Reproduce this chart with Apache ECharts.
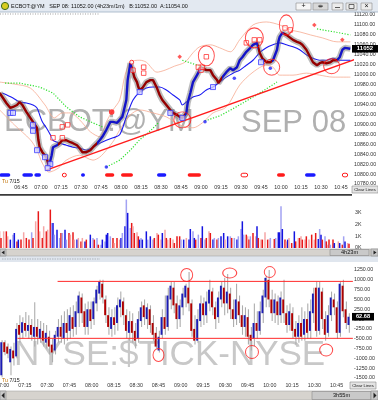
<!DOCTYPE html>
<html><head><meta charset="utf-8">
<script src="https://cdn.jsdelivr.net/npm/echarts@6/dist/echarts.min.js"></script>
<style>html,body{margin:0;padding:0;background:#fff;}#c{width:378px;height:400px;}</style>
</head><body><div id="c"></div>
<script>
// ---------- DATA (minutes since midnight, prices) ----------
const priceTime = [389,391,394,397,399,402,404,406,409,412, 414,417,418,419,421,424,426,428,429,432,
  434,436,439,442,444,447,449,451,454,457, 459,462,464,466,469,472,474,477,479,481,
  484,485,487,488,489,490,492,493,494,496, 499,502,504,507,509,511,514,517,519,522,
  524,526,529,530,532,534,537,539,541,544, 547,549,552,553,554,556,559,562,564,567,
  569,571,574,577,579,582,583,584,586,589, 592,594,597,598,599,601,604,607,609,612,
  614,616,619,622,624,627,629,631,634,637, 639,642,644,646,648,649,652];
const priceValue = [10963,10955,10943,10933,10935,10939,10945,10939,10925,10913, 10905,10893,10869,10854,10844,10834,10816,10838,10854,10858,
  10862,10868,10868,10864,10862,10858,10852,10844,10844,10848, 10854,10862,10868,10875,10889,10905,10905,10903,10909,10915,
  10949,10989,11023,11025,11005,10995,10985,10975,10969,10973, 10985,10989,10989,10973,10959,10949,10939,10929,10923,10919,
  10915,10913,10923,10943,10963,10985,10999,11009,11013,11009, 11009,10999,10989,10983,10985,10995,11005,11013,11009,11015,
  11029,11035,11046,11054,11060,11064,11054,11044,11033,11025, 11025,11029,11050,11066,11076,11084,11080,11074,11070,11066,
  11064,11060,11050,11035,11025,11019,11023,11025,11023,11025, 11029,11029,11035,11050,11054,11050,11052];
const upMoves = [[426,433],[462,488],[528,541],[556,583],[593,602],[642,660]];

const maTime = [391,399,404,409,414,417,419,421,424,427, 429,432,434,439,444,449,454,459,464,469,
  474,479,484,489,494,499,504,509,514,519, 524,526,529,534,539,544,549,554,559,564,
  569,574,579,584,589,594,599,604,609,614, 619,624,629,634,639,644,652];
const maValue = [10963,10953,10945,10943,10939,10933,10919,10905,10893,10879, 10868,10864,10862,10858,10854,10852,10848,10854,10862,10868,
  10873,10879,10915,10949,10965,10973,10975,10975,10969,10959, 10949,10939,10945,10955,10959,10969,10975,10985,10995,11003,
  11009,11019,11029,11044,11054,11060,11064,11060,11056,11050, 11040,11033,11029,11029,11033,11029,11029];

const upperTime = [389,400,412,423,430,436,442,449,457,464, 469,474,479,483,487,494,499,507,513,520, 528,534,539,547,554,562,569,579,589,599, 607,614,622,631,642,652];
const upperValue = [10985,10981,10973,10939,10913,10923,10923,10909,10885,10875, 10905,10929,10949,10999,11025,11029,11025,11005,11009,11017, 11025,11044,11056,11060,11054,11046,11070,11100,11106,11100, 11090,11086,11080,11074,11066,11066];
const lowerTime = [389,400,412,417,421,426,433,439,449,459, 464,469,475,479,487,494,504,514,524,534, 541,549,559,569,579,589,594,599,609,619, 629,639,652];
const lowerValue = [10929,10899,10869,10848,10822,10804,10812,10828,10838,10828, 10834,10848,10869,10889,10919,10929,10923,10915,10899,10893, 10903,10923,10935,10979,11005,11019,11015,10999,10999,11003, 10999,10995,10995];

const sarTimes = [[393,404,419,429,439,449,459,466],[469,479,487,494,502,508],[526,535,544],[543,554,565,574,584,597],[627,640,652]];
const sarValues = [[10983,10983,10975,10963,10935,10915,10903,10895],[10814,10828,10848,10869,10887,10903],[11029,11021,11013],[10907,10917,10933,10947,10963,10985],[11092,11086,11080]];

const trendTime = [424, 656];
const trendValue = [10808, 11031];

const redSqTime = [489,497,497,440,436,429,436,544,538,540,541,574,580,584,603,607];
const redSqValue = [11009,11015,11003,10899,10895,10873,10873,11036,11015,11009,11015,11064,11070,11070,11094,11090];
const blueSqTime = [397,399,414,414,417,423,427,425,494,517,526,549,585];
const blueSqValue = [10923,10923,10899,10887,10848,10834,10820,10812,10965,10923,10913,10975,11025];
const redDotTime = [473], redDotValue = [10925];
const redRingTime = [488], redRingValue = [11025];
const diamondTime = [524,625,646], diamondValue = [11036,11100,11070];
const blueDotTime = [469,565,592,543], blueDotValue = [10814,10993,11013,10905];
const ellipseTime = [544,580,604,593,638,526];
const ellipseValue = [11038,11074,11100,11015,11017,10909];
const signalStart = [389,406,415,450,507,618,436,570,646,468,480,530,597];
const signalEnd   = [397,414,420,453,514,626,439,575,650,475,489,540,603];
const signalKind  = ['b','b','b','b','b','b','h','h','h','r','r','r','r'];
const signalLevel = 10798;
const lastPrice = 11052;

const volTime = [389,390,392,394,395,397,399,400,402,403, 405,407,409,411,413,414,416,418,419,421,
  422,424,425,427,428,429,430,432,434,435, 436,438,439,441,442,444,445,447,448,450,
  451,453,454,457,459,460,462,463,465,466, 468,469,470,472,474,475,477,479,480,481,
  483,484,485,487,488,489,490,492,493,494, 495,496,499,500,502,504,505,507,508,510,
  511,513,514,515,517,519,520,522,524,525, 527,529,531,532,534,535,536,538,540,541,
  543,544,546,547,549,550,552,553,555,557, 558,560,562,563,565,567,568,570,571,572,
  574,575,576,577,579,581,582,583,585,586, 588,590,591,592,595,596,598,599,600,601,
  603,604,605,606,608,610,611,613,614,615, 616,618,619,621,623,625,626,628,629,630,
  631,633,634,635,636,637,639,640,643,644, 646,647,648,650,651];
const volK = [1.41,0.85,1.41,1.41,0.99,0.71,1.13,1.27,0.56,0.71, 0.71,1.33,0.85,0.71,1.33,0.85,2.26,3.11,1.41,0.85,
  1.84,1.41,1.55,3.25,2.12,2.12,1.13,1.55,0.85,1.27, 1.27,1.55,0.71,1.27,1.13,1.33,0.71,0.71,0.85,0.56,
  0.85,0.56,0.71,1.13,0.85,0.71,0.85,0.28,0.28,0.71, 0.56,1.13,1.27,0.99,0.85,0.42,0.85,0.71,0.85,1.27,
  1.84,4.10,2.97,1.69,2.12,1.84,1.27,1.33,0.99,0.71, 0.85,0.71,1.41,0.71,0.99,0.71,0.85,1.27,1.13,0.71,
  1.27,1.55,0.85,0.71,0.85,0.71,0.42,0.99,0.99,0.71, 0.71,0.85,0.71,1.61,1.41,0.85,0.71,1.13,0.85,1.84,
  0.71,0.85,1.41,1.27,0.71,0.85,0.71,0.85,0.99,1.27, 0.71,0.99,0.99,0.85,0.85,0.71,0.99,1.61,2.26,1.13,
  1.13,0.99,0.71,0.99,1.27,0.99,1.84,0.85,0.71,0.71, 1.33,0.71,0.71,0.85,0.76,0.85,1.33,1.33,3.53,1.61,
  0.71,0.56,0.71,0.85,0.42,1.41,0.56,0.85,0.85,0.99, 0.71,0.71,0.99,0.71,1.13,0.71,1.27,0.76,1.61,1.13,
  0.71,0.99,0.56,0.28,0.71,0.28,0.71,0.42,0.56,0.42, 0.28,0.99,0.56,0.42,0.37];
const volKind = ("RrRrRbBbrb"+"rRrrBrRrRr"+"RrRrBbBbBr"+"BbBrRrRbRr"+"RbrbBrBrBb"+"BbbBrRrRbB"+"bBbBrRrRrb"+"BbbBbBrRrR"+
  "bRrRrRrrrB"+"bRbbBbrBrb"+"BrRrbBrBbb"+"RbBrBbBBbB"+"rRrBrRbrRr"+"RrRBrBbbBb"+"rRbRrbrRrR"+"rRrRrRrbBb"+"rBrRrBrbRb"+"rBbRr").split('');

const tickStart = 419, tickStep = 2;
const tickOpen = [-1430,-590,-700,-1100,-800,-950,-150,-350,-100,-300, -150,-450,-200,-500,-300,-600,-450,-650,-800,-450,
  -200,-500,-100,-300,50,-200,150,550,200,-200, 250,0,400,650,900,500,100,-250,50,-100,
  300,450,100,-350,-50,-300,-500,-50,350,0, 250,-100,-350,-800,-400,50,-200,500,800,400,
  0,300,550,800,400,-250,-550,-50,400,100, 400,700,300,50,500,800,400,650,250,0,
  450,100,-200,50,-400,-500,-100,-300,150,550, 1000,500,150,450,100,500,150,-150,150,-250,
  -450,-100,-400,0,-300,150,800,-300,700,0, -350,100,500,300,-350,850,250,-150];
const tickClose = [-590,-840,-880,-760,-1000,-250,-400,-80,-300,-150, -400,-200,-450,-250,-550,-350,-700,-850,-400,-200,
  -450,-100,-350,100,-250,200,600,150,-200,250, -50,450,750,950,550,100,-200,50,-150,350,
  500,100,-300,-50,-350,-550,0,300,50,300, -150,-400,-700,-450,50,-250,600,850,350,0,
  350,650,850,400,-300,-550,0,400,100,450, 750,300,0,550,850,400,700,250,0,500,
  100,-200,100,-450,-550,-100,-300,200,600,1050, 500,150,500,100,550,150,-150,200,-300,-450,
  -100,-450,0,-350,200,650,-300,800,0,-400, 100,550,300,-350,900,200,-100,60];
const tickLow = [-1480,-920,-1000,-1430,-1180,-1000,-600,-500,-450,-500, -550,-700,-650,-600,-700,-750,-900,-1100,-900,-600,
  -600,-650,-550,-500,-450,-400,-200,-100,-400,-400, -250,-150,200,500,400,-100,-400,-450,-400,-300,
  50,-150,-500,-550,-600,-750,-600,-200,-150,-250, -350,-550,-750,-850,-500,-400,-300,250,150,-250,
  -200,100,300,200,-450,-650,-600,-200,-150,-100, 200,100,-250,-100,300,100,150,0,-200,-150,
  -100,-400,-450,-650,-800,-700,-500,-400,-100,300, 300,-50,-100,-150,-100,-100,-350,-300,-500,-650,
  -600,-550,-550,-500,-500,-100,-450,-400,-250,-550, -450,-50,100,-500,-450,50,-250,-350];
const tickHigh = [-540,-540,-620,-700,-600,-100,100,50,180,100, 0,430,0,-50,-100,-150,-300,-500,-300,0,
  100,200,250,300,350,450,700,650,400,450, 450,550,850,1000,1000,600,300,250,300,550,
  700,550,250,200,150,-100,200,450,500,400, 350,100,-200,-300,250,600,800,950,950,600,
  500,800,900,1200,500,100,250,600,550,700, 1000,800,450,700,950,1050,1150,800,500,900,
  600,350,300,250,-200,400,200,450,750,1100, 1250,750,650,600,700,1000,350,400,300,-50,
  100,300,200,400,500,800,950,950,800,200, 350,700,650,450,950,1000,450,150];
const tickLastValue = 60, tickLastLabel = '62.68';
const tickLineStart = [457, 430], tickLineEnd = [656, 656], tickLineLevel = [960, -490];
const tickEllTime = [544,573,600,588,525,638];
const tickEllValue = [1123,1174,1199,-838,-915,-787];

const mainTickTimes = [405,420,435,450,465,480,495,510,525,540,555,570,585,600,615,630,645];
const lowTickTimes = [420,435,450,465,480,495,510,525,540,555,570,585,600,615,630,645];

// ---------- STYLE ----------
const FONT = 'Liberation Sans';
const RED = '#940000', BLUE = '#1414c8';
const ellipseSizes = [[16,20],[18,20],[14,20],[16,16],[16,15],[17,16]];
const tickEllSizes = [[12,13],[14,10],[11,11],[13,13],[11,13],[13,12]];
const VOLCOL = {r:'#e81818', R:'#f5a6a6', b:'#1414e0', B:'#a2a2f2'};

function hhmm(m){ m = Math.round(m); const h = Math.floor(m/60), mi = m%60; return (h<10?'0':'')+h+':'+(mi<10?'0':'')+mi; }
const zip = (a,b) => a.map((v,i) => [v, b[i]]);

const pieces = [];
let cur = 380;
upMoves.forEach(([a,b]) => { pieces.push({gte:cur, lt:a, color:RED}); pieces.push({gte:a, lt:b, color:BLUE}); cur = b; });
pieces.push({gte:cur, color:RED});

const chart = echarts.init(document.getElementById('c'));
const lab = {fontSize:5.3, color:'#333', fontFamily:FONT};
const gridBase = {left:0, width:352, containLabel:false, outerBoundsMode:'none'};

const series = [];
// grid 0
series.push({type:'line', xAxisIndex:0, yAxisIndex:0, data:zip(upperTime,upperValue), symbol:'none', smooth:0.3, lineStyle:{color:'#f6ab92', width:0.8}, z:1});
series.push({type:'line', xAxisIndex:0, yAxisIndex:0, data:zip(lowerTime,lowerValue), symbol:'none', smooth:0.3, lineStyle:{color:'#f6ab92', width:0.8}, z:1});
sarTimes.forEach((ts, k) => series.push({type:'line', xAxisIndex:0, yAxisIndex:0, data:zip(ts, sarValues[k]), symbol:'none', lineStyle:{color:'#2ee02e', width:1.2, type:[1.2,1.6]}, z:1}));
series.push({type:'line', xAxisIndex:0, yAxisIndex:0, data:zip(trendTime,trendValue), symbol:'none', lineStyle:{color:'#ff1c1c', width:1.4}, z:3});
series.push({type:'line', xAxisIndex:0, yAxisIndex:0, data:zip(maTime,maValue), symbol:'none', smooth:0.3, lineStyle:{color:'#1a1af2', width:1.1}, z:3});
series.push({type:'line', xAxisIndex:0, yAxisIndex:0, data:zip(priceTime,priceValue), symbol:'none', lineStyle:{color:'rgba(120,120,120,0.5)', width:6}, z:4});
const priceIdx = series.length;
series.push({type:'line', xAxisIndex:0, yAxisIndex:0, data:zip(priceTime,priceValue), symbol:'none', lineStyle:{width:2.4}, z:5});
series.push({type:'scatter', xAxisIndex:0, yAxisIndex:0, data:zip(redSqTime,redSqValue), symbol:'rect', symbolSize:4.5, itemStyle:{color:'rgba(255,255,255,0.6)', borderColor:'#ff2020', borderWidth:0.9}, z:6});
series.push({type:'scatter', xAxisIndex:0, yAxisIndex:0, data:zip(blueSqTime,blueSqValue), symbol:'rect', symbolSize:5, itemStyle:{color:'#d0d0ff', borderColor:'#3030ff', borderWidth:0.9}, z:6});
series.push({type:'scatter', xAxisIndex:0, yAxisIndex:0, data:zip(redDotTime,redDotValue), symbol:'circle', symbolSize:5.5, itemStyle:{color:'#ff1010'}, z:6});
series.push({type:'scatter', xAxisIndex:0, yAxisIndex:0, data:zip(redRingTime,redRingValue), symbol:'circle', symbolSize:4, itemStyle:{color:'#fff', borderColor:'#ff1010', borderWidth:1}, z:6});
series.push({type:'scatter', xAxisIndex:0, yAxisIndex:0, data:zip(diamondTime,diamondValue), symbol:'diamond', symbolSize:4.5, itemStyle:{color:'#ff3030'}, z:6});
series.push({type:'scatter', xAxisIndex:0, yAxisIndex:0, data:zip(blueDotTime,blueDotValue), symbol:'circle', symbolSize:3.5, itemStyle:{color:'#2020ff'}, z:6});
series.push({type:'scatter', xAxisIndex:0, yAxisIndex:0, data:zip(ellipseTime,ellipseValue), symbol:'circle',
  symbolSize:(v,p)=>ellipseSizes[p.dataIndex], itemStyle:{color:'rgba(0,0,0,0)', borderColor:'#ff1a1a', borderWidth:1}, z:7});
series.push({type:'custom', xAxisIndex:0, yAxisIndex:0, data:signalStart.map((s,i)=>[s, signalEnd[i], signalLevel]),
  encode:{x:[0,1], y:2},
  renderItem:(params, api)=>{
    const a = api.coord([api.value(0), api.value(2)]), b = api.coord([api.value(1), api.value(2)]);
    const k = signalKind[params.dataIndex];
    return {type:'rect', shape:{x:a[0], y:a[1]-1.8, width:Math.max(3,b[0]-a[0]), height:3.6, r:1.8},
      style: k==='b' ? {fill:'#1a1aff'} : k==='r' ? {fill:'#ff1a1a'} : {fill:'#fff', stroke:'#ff1a1a', lineWidth:1}};
  }, z:6});
// grid 1 volume
series.push({type:'custom', xAxisIndex:1, yAxisIndex:1, data:zip(volTime, volK), encode:{x:0, y:1},
  renderItem:(params, api)=>{
    const t = api.value(0), v = api.value(1);
    const p1 = api.coord([t, v]), p0 = api.coord([t, 0]);
    return {type:'rect', shape:{x:p1[0]-0.75, y:p1[1], width:1.5, height:p0[1]-p1[1]}, style:{fill:VOLCOL[volKind[params.dataIndex]]}};
  }});
// grid 2 tick
series.push({type:'custom', xAxisIndex:2, yAxisIndex:2, clip:true,
  data:tickOpen.map((o,i)=>[tickStart+i*tickStep, o, tickClose[i], tickLow[i], tickHigh[i]]),
  encode:{x:0, y:[1,2,3,4]},
  renderItem:(params, api)=>{
    const t = api.value(0), o = api.value(1), c = api.value(2), l = api.value(3), h = api.value(4);
    const pH = api.coord([t,h]), pL = api.coord([t,l]), pO = api.coord([t,o]), pC = api.coord([t,c]);
    const col = c >= o ? '#1c1cb4' : '#b00000';
    return {type:'group', children:[
      {type:'line', shape:{x1:pH[0]+0.9, y1:pH[1], x2:pL[0]+0.9, y2:pL[1]}, style:{stroke:'#adadad', lineWidth:1.1}},
      {type:'rect', shape:{x:pO[0]-0.9, y:Math.min(pO[1],pC[1]), width:1.9, height:Math.max(1, Math.abs(pO[1]-pC[1]))}, style:{fill:col}}
    ]};
  }, z:3});
tickLineLevel.forEach((lv, k) => series.push({type:'line', xAxisIndex:2, yAxisIndex:2, data:[[tickLineStart[k], lv],[tickLineEnd[k], lv]], symbol:'none', lineStyle:{color:'#ff2a2a', width:1}, z:4}));
series.push({type:'scatter', xAxisIndex:2, yAxisIndex:2, data:zip(tickEllTime,tickEllValue), symbol:'circle',
  symbolSize:(v,p)=>tickEllSizes[p.dataIndex], itemStyle:{color:'rgba(0,0,0,0)', borderColor:'#ff1a1a', borderWidth:1}, z:5});

chart.setOption({
  animation:false,
  backgroundColor:'#fff',
  grid:[
    Object.assign({top:15, height:169}, gridBase),
    Object.assign({top:196, height:52}, gridBase),
    Object.assign({top:270, height:108}, gridBase)
  ],
  xAxis:[
    {gridIndex:0, type:'value', min:389.25, max:653.25, axisLine:{show:false}, axisTick:{show:false}, splitLine:{show:false},
      axisLabel:Object.assign({customValues:mainTickTimes, formatter:hhmm, margin:1.5}, lab)},
    {gridIndex:1, type:'value', min:389.25, max:653.25, show:false},
    {gridIndex:2, type:'value', min:418.2, max:655.4, axisLine:{show:false}, axisTick:{show:false}, splitLine:{show:false},
      axisLabel:Object.assign({customValues:lowTickTimes, formatter:hhmm, margin:5}, lab)}
  ],
  yAxis:[
    {gridIndex:0, type:'value', position:'right', min:10780, max:11120, interval:20, axisLine:{show:false}, axisTick:{show:false}, splitLine:{show:false},
      axisLabel:Object.assign({formatter:v=>v.toFixed(2), margin:2}, lab)},
    {gridIndex:1, type:'value', position:'right', min:0, max:4.4, interval:1, axisLine:{show:false}, axisTick:{show:false}, splitLine:{show:false},
      axisLabel:Object.assign({formatter:v=> v<=3.01 ? Math.round(v)+'K' : '', margin:3}, lab)},
    {gridIndex:2, type:'value', position:'right', min:-1500, max:1250, interval:250, axisLine:{show:false}, axisTick:{show:false}, splitLine:{show:false},
      axisLabel:Object.assign({formatter:v=>v.toFixed(2), margin:2}, lab)}
  ],
  visualMap:{show:false, type:'piecewise', seriesIndex:priceIdx, dimension:0, pieces:pieces},
  series:series
});

// ---------- frame / decorations ----------
const yPrice = chart.convertToPixel({yAxisIndex:0}, lastPrice);
const yTick = chart.convertToPixel({yAxisIndex:2}, tickLastValue);
const small = {fontFamily:FONT, fontSize:5.3, fill:'#111'};
function btn(x,y,w,h,fill){ return {type:'rect', shape:{x:x,y:y,width:w,height:h}, style:{fill:fill||'#ececec', stroke:'#8a8a8a', lineWidth:0.6}, z:50}; }
function scroll(y,h,tx,tw,label){
  return [
    {type:'rect', shape:{x:0,y:y,width:378,height:h}, style:{fill:'#d6d3ce', stroke:'#9a9a9a', lineWidth:0.5}, z:50},
    btn(0,y,6,h,'#c8c8c8'),
    {type:'polygon', shape:{points:[[1.5,y+h/2],[4.5,y+1.5],[4.5,y+h-1.5]]}, style:{fill:'#222'}, z:51},
    btn(tx,y+0.5,tw,h-1,'#c9c9c9'),
    {type:'text', x:tx+tw/2, y:y+h/2, style:Object.assign({}, small, {text:label, align:'center', verticalAlign:'middle', fontSize:5.6}), z:51},
    btn(371,y,7,h,'#c8c8c8'),
    {type:'polygon', shape:{points:[[376.5,y+h/2],[373.5,y+1.5],[373.5,y+h-1.5]]}, style:{fill:'#222'}, z:51}
  ];
}
const graphic = [
  // watermarks
  {type:'text', x:4, y:107, style:{text:'ECBOT:@YM', fontFamily:FONT, fontSize:31, fill:'#b0b0b0', verticalAlign:'alphabetic'}, z:-10},
  {type:'text', x:241, y:108, style:{text:'SEP 08', fontFamily:FONT, fontSize:31, fill:'#b0b0b0', verticalAlign:'alphabetic'}, z:-10},
  {type:'text', x:14, y:338, style:{text:'NYSE:$TICK-NYSE', fontFamily:FONT, fontSize:35, fill:'#c8c8c8', verticalAlign:'alphabetic'}, z:-10},
  // title bar
  {type:'rect', shape:{x:0,y:0,width:378,height:12}, style:{fill:'#e3e9f1'}, z:50},
  {type:'line', shape:{x1:0,y1:12,x2:378,y2:12}, style:{stroke:'#9fb0c4', lineWidth:0.8}, z:50},
  {type:'line', shape:{x1:0,y1:14,x2:100,y2:14}, style:{stroke:'#777', lineWidth:0.7, lineDash:[1,1.5]}, z:50},
  {type:'circle', shape:{cx:5,cy:6,r:3.6}, style:{fill:'#d8cc20', stroke:'#3c6a1c', lineWidth:1}, z:51},
  {type:'text', x:11, y:6.3, style:Object.assign({}, small, {text:'ECBOT:@YM   SEP 08: 11052.00 (4h23m/1m)   B:11052.00  A:11054.00', verticalAlign:'middle', fontSize:5.5}), z:51},
  btn(296,3,15,7,'#f6f6f6'), btn(313,3,15,7,'#d8d8d8'),
  {type:'text', x:303.5, y:6.5, style:Object.assign({}, small, {text:'+', align:'center', verticalAlign:'middle', fontSize:7}), z:52},
  {type:'text', x:320.5, y:6.5, style:Object.assign({}, small, {text:'⇹', align:'center', verticalAlign:'middle', fontSize:6}), z:52},
  btn(332,3,11,7), btn(346,3,11,7), btn(361,3,11,7),
  {type:'line', shape:{x1:335,y1:7.5,x2:340,y2:7.5}, style:{stroke:'#333', lineWidth:0.8}, z:52},
  {type:'rect', shape:{x:349,y:4.5,width:5,height:4}, style:{fill:'none', stroke:'#333', lineWidth:0.7}, z:52},
  {type:'text', x:366.5, y:6.5, style:Object.assign({}, small, {text:'×', align:'center', verticalAlign:'middle', fontSize:7}), z:52},
  // main panel labels
  {type:'text', x:2, y:182, style:{text:'{a|Tu} 7/15', fontFamily:FONT, fontSize:5.3, fill:'#111', verticalAlign:'middle', rich:{a:{fill:'#c07000', fontSize:5.3, fontFamily:FONT}}}, z:50},
  btn(352,186,26,7,'#e4e4e4'),
  {type:'text', x:365, y:189.5, style:Object.assign({}, small, {text:'Clear Lines', align:'center', verticalAlign:'middle', fontSize:4.3}), z:51},
  // volume panel separator
  {type:'rect', shape:{x:0,y:194,width:352,height:1.8}, style:{fill:'#3a3a3a'}, z:50},
  // scrollbar + band
  ...scroll(249,7,330,39,'4h23m'),
  {type:'rect', shape:{x:0,y:256,width:378,height:6}, style:{fill:'#e0e6ee'}, z:49},
  {type:'line', shape:{x1:2,y1:259,x2:100,y2:259}, style:{stroke:'#8a94a0', lineWidth:0.6, lineDash:[1.5,1]}, z:50},
  // bottom panel labels
  {type:'text', x:2, y:381, style:{text:'{a|Tu} 7/15', fontFamily:FONT, fontSize:5.3, fill:'#111', verticalAlign:'middle', rich:{a:{fill:'#c07000', fontSize:5.3, fontFamily:FONT}}}, z:50},
  btn(350,382,26,7,'#e4e4e4'),
  {type:'text', x:363, y:385.5, style:Object.assign({}, small, {text:'Clear Lines', align:'center', verticalAlign:'middle', fontSize:4.3}), z:51},
  ...scroll(391,9,312,59,'3h55m'),
  // last value boxes
  {type:'rect', shape:{x:352,y:yPrice-3.8,width:26,height:7.6}, style:{fill:'#000'}, z:60},
  {type:'text', x:365, y:yPrice, style:{text:String(lastPrice), fontFamily:FONT, fontSize:6, fontWeight:'bold', fill:'#fff', align:'center', verticalAlign:'middle'}, z:61},
  {type:'rect', shape:{x:352,y:yTick-3.8,width:22,height:7.6}, style:{fill:'#000'}, z:60},
  {type:'text', x:363, y:yTick, style:{text:tickLastLabel, fontFamily:FONT, fontSize:5.6, fontWeight:'bold', fill:'#fff', align:'center', verticalAlign:'middle'}, z:61}
];
chart.setOption({graphic:graphic});
</script>
</body></html>
